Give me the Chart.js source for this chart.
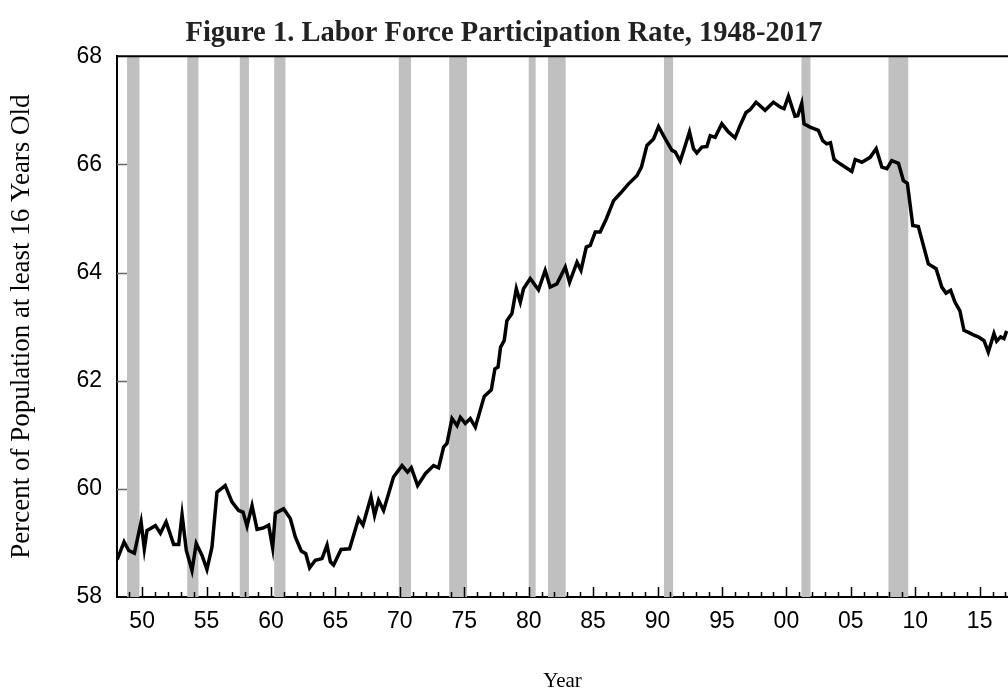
<!DOCTYPE html>
<html lang="en">
<head>
  <meta charset="UTF-8" />
  <title>Labor Force Participation Rate, 1948-2017</title>
  <script src="https://cdn.jsdelivr.net/npm/chart.js"></script>
  <style>
    html, body { margin: 0; padding: 0; background: #fff; overflow: hidden; }
    canvas { display: block; }
  </style>
</head>
<body>
  <canvas id="lfprChart" width="1008" height="697"></canvas>

  <script>
    // values (year as decimal, rate in %)
    const lfprYear = [
      1948.06, 1948.6, 1948.96, 1949.4, 1949.92, 1950.17, 1950.38, 1951.03, 1951.42, 1951.86,
      1952.45, 1952.84, 1953.1, 1953.43, 1953.87, 1954.2, 1954.65, 1955.03, 1955.42, 1955.81,
      1956.45, 1956.97, 1957.49, 1957.83, 1958.14, 1958.53, 1958.92, 1959.43, 1959.82, 1960.13,
      1960.34, 1960.98, 1961.5, 1961.89, 1962.35, 1962.7, 1963.0, 1963.44, 1963.96, 1964.35,
      1964.61, 1964.86, 1965.44, 1966.1, 1966.8, 1967.14, 1967.76, 1968.04, 1968.35, 1968.74,
      1969.51, 1970.17, 1970.6, 1970.89, 1971.38, 1971.98, 1972.62, 1973.01, 1973.4, 1973.66,
      1974.05, 1974.44, 1974.7, 1975.08, 1975.47, 1975.86, 1976.55, 1977.1, 1977.38, 1977.62,
      1977.82, 1978.1, 1978.31, 1978.7, 1979.04, 1979.35, 1979.6, 1980.12, 1980.76, 1981.28,
      1981.67, 1982.19, 1982.84, 1983.17, 1983.75, 1984.06, 1984.47, 1984.78, 1985.17, 1985.55,
      1986.02, 1986.59, 1987.1, 1987.75, 1988.4, 1988.75, 1989.18, 1989.69, 1990.08, 1990.6,
      1991.12, 1991.37, 1991.76, 1992.15, 1992.48, 1992.79, 1993.05, 1993.44, 1993.83, 1994.09,
      1994.47, 1994.99, 1995.5, 1996.02, 1996.41, 1996.87, 1997.18, 1997.65, 1998.35, 1998.99,
      1999.51, 1999.82, 2000.16, 2000.67, 2000.88, 2001.19, 2001.37, 2001.84, 2002.48, 2002.82,
      2003.13, 2003.42, 2003.7, 2004.17, 2005.08, 2005.34, 2005.86, 2006.5, 2006.97, 2007.41,
      2007.8, 2008.18, 2008.7, 2009.08, 2009.39, 2009.81, 2010.24, 2011.02, 2011.62, 2012.06,
      2012.39, 2012.75, 2013.09, 2013.47, 2013.78, 2014.25, 2014.56, 2014.89, 2015.34, 2015.67,
      2016.11, 2016.32, 2016.63, 2016.89, 2017.1
    ];
    const lfprRate = [
      58.69, 59.02, 58.86, 58.81, 59.39, 58.89, 59.23, 59.32, 59.18, 59.39,
      58.97, 58.97, 59.52, 58.86, 58.49, 58.99, 58.77, 58.51, 58.92, 59.94,
      60.06, 59.76, 59.60, 59.57, 59.31, 59.69, 59.25, 59.28, 59.33, 58.91,
      59.55, 59.63, 59.45, 59.11, 58.85, 58.80, 58.54, 58.68, 58.71, 58.96,
      58.65, 58.59, 58.88, 58.89, 59.45, 59.33, 59.85, 59.51, 59.79, 59.60,
      60.22, 60.43, 60.31, 60.39, 60.06, 60.28, 60.43, 60.39, 60.77, 60.84,
      61.30, 61.17, 61.32, 61.21, 61.30, 61.14, 61.71, 61.83, 62.22, 62.25,
      62.62, 62.74, 63.11, 63.24, 63.70, 63.45, 63.70, 63.89, 63.68, 64.04,
      63.73, 63.79, 64.10, 63.82, 64.19, 64.04, 64.47, 64.50, 64.75, 64.75,
      64.99, 65.33, 65.46, 65.64, 65.79, 65.95, 66.35, 66.47, 66.70, 66.47,
      66.26, 66.23, 66.06, 66.35, 66.60, 66.29, 66.21, 66.32, 66.33, 66.53,
      66.50, 66.75, 66.60, 66.49, 66.72, 66.96, 67.01, 67.15, 67.00, 67.15,
      67.06, 67.03, 67.26, 66.89, 66.90, 67.13, 66.75, 66.69, 66.63, 66.44,
      66.38, 66.40, 66.09, 66.01, 65.87, 66.09, 66.04, 66.13, 66.29, 65.95,
      65.92, 66.07, 66.02, 65.70, 65.65, 64.87, 64.85, 64.16, 64.07, 63.73,
      63.62, 63.67, 63.45, 63.29, 62.93, 62.88, 62.84, 62.81, 62.74, 62.53,
      62.87, 62.73, 62.81, 62.78, 62.92
    ];

    // shaded recessions (start / end, decimal years)
    const recStart = [1948.83, 1953.5, 1957.58, 1960.25, 1969.92, 1973.83, 1980.0, 1981.5, 1990.5, 2001.17, 2007.92];
    const recEnd   = [1949.79, 1954.37, 1958.29, 1961.12, 1970.87, 1975.21, 1980.54, 1982.87, 1991.21, 2001.87, 2009.46];

    const xLabelYears = [1950, 1955, 1960, 1965, 1970, 1975, 1980, 1985, 1990, 1995, 2000, 2005, 2010, 2015];
    const yTickValues = [58, 60, 62, 64, 66, 68];

    const points = lfprYear.map((yr, i) => ({ x: yr, y: lfprRate[i] }));

    // gray bars, inward tick marks and the top frame line
    const decorations = {
      id: 'decorations',
      beforeDatasetsDraw(chart) {
        const { ctx, chartArea: a, scales: { x } } = chart;
        ctx.save();
        ctx.fillStyle = '#c0c0c0';
        recStart.forEach((s, i) => {
          const x0 = x.getPixelForValue(s);
          const x1 = x.getPixelForValue(recEnd[i]);
          ctx.fillRect(x0, a.top, x1 - x0, a.bottom - a.top);
        });
        ctx.restore();
      },
      afterDraw(chart) {
        const { ctx, chartArea: a, scales: { x, y } } = chart;
        ctx.save();
        ctx.strokeStyle = '#000';
        ctx.lineWidth = 1.5;
        ctx.beginPath();
        for (let yr = 1949; yr <= 2017; yr++) {
          const px = Math.round(x.getPixelForValue(yr)) + 0.5;
          const len = yr % 5 === 0 ? 10 : 5;
          ctx.moveTo(px, a.bottom);
          ctx.lineTo(px, a.bottom - len);
        }
        ctx.stroke();

        ctx.strokeStyle = '#666';
        ctx.beginPath();
        [60, 62, 64, 66].forEach(v => {
          const py = Math.round(y.getPixelForValue(v)) + 0.5;
          ctx.moveTo(a.left, py);
          ctx.lineTo(a.left + 10, py);
        });
        ctx.stroke();

        ctx.strokeStyle = '#000';
        ctx.lineWidth = 2;
        ctx.beginPath();
        ctx.moveTo(a.left, a.top);
        ctx.lineTo(a.right, a.top);
        ctx.stroke();
        ctx.restore();
      }
    };

    new Chart(document.getElementById('lfprChart'), {
      type: 'line',
      data: {
        datasets: [{
          label: 'Labor force participation rate',
          data: points,
          borderColor: '#000',
          borderWidth: 3.5,
          pointRadius: 0,
          tension: 0,
          fill: false
        }]
      },
      options: {
        responsive: false,
        animation: false,
        devicePixelRatio: 1,
        layout: { padding: { left: 0, right: 0, top: 0, bottom: 0 } },
        plugins: {
          legend: { display: false },
          tooltip: { enabled: false },
          title: {
            display: true,
            text: 'Figure 1. Labor Force Participation Rate, 1948-2017',
            color: '#222',
            font: { family: 'Liberation Serif', size: 28.5, weight: 'bold' },
            padding: { top: 17, bottom: 5 }
          }
        },
        scales: {
          x: {
            type: 'linear',
            min: 1948.05,
            max: 2017.2,
            afterFit: s => { s.height = 100; },
            afterBuildTicks: s => { s.ticks = xLabelYears.map(v => ({ value: v })); },
            grid: { display: false, drawTicks: false },
            border: { display: true, color: '#000', width: 2 },
            ticks: {
              color: '#000',
              padding: 11,
              maxRotation: 0,
              autoSkip: false,
              font: { family: 'Liberation Sans', size: 23 },
              callback: v => String(v % 100).padStart(2, '0')
            },
            title: {
              display: true,
              text: 'Year',
              color: '#000',
              font: { family: 'Liberation Serif', size: 21 },
              padding: { top: 0, bottom: 3 }
            }
          },
          y: {
            min: 58,
            max: 68,
            afterFit: s => { s.width = 117; },
            afterBuildTicks: s => { s.ticks = yTickValues.map(v => ({ value: v })); },
            grid: { display: false, drawTicks: false },
            border: { display: true, color: '#000', width: 2 },
            ticks: {
              color: '#000',
              padding: 15,
              font: { family: 'Liberation Sans', size: 23 }
            },
            title: {
              display: true,
              text: 'Percent of Population at least 16 Years Old',
              color: '#000',
              font: { family: 'Liberation Serif', size: 27 },
              padding: { top: 6, bottom: 0 }
            }
          }
        }
      },
      plugins: [decorations]
    });
  </script>
</body>
</html>
